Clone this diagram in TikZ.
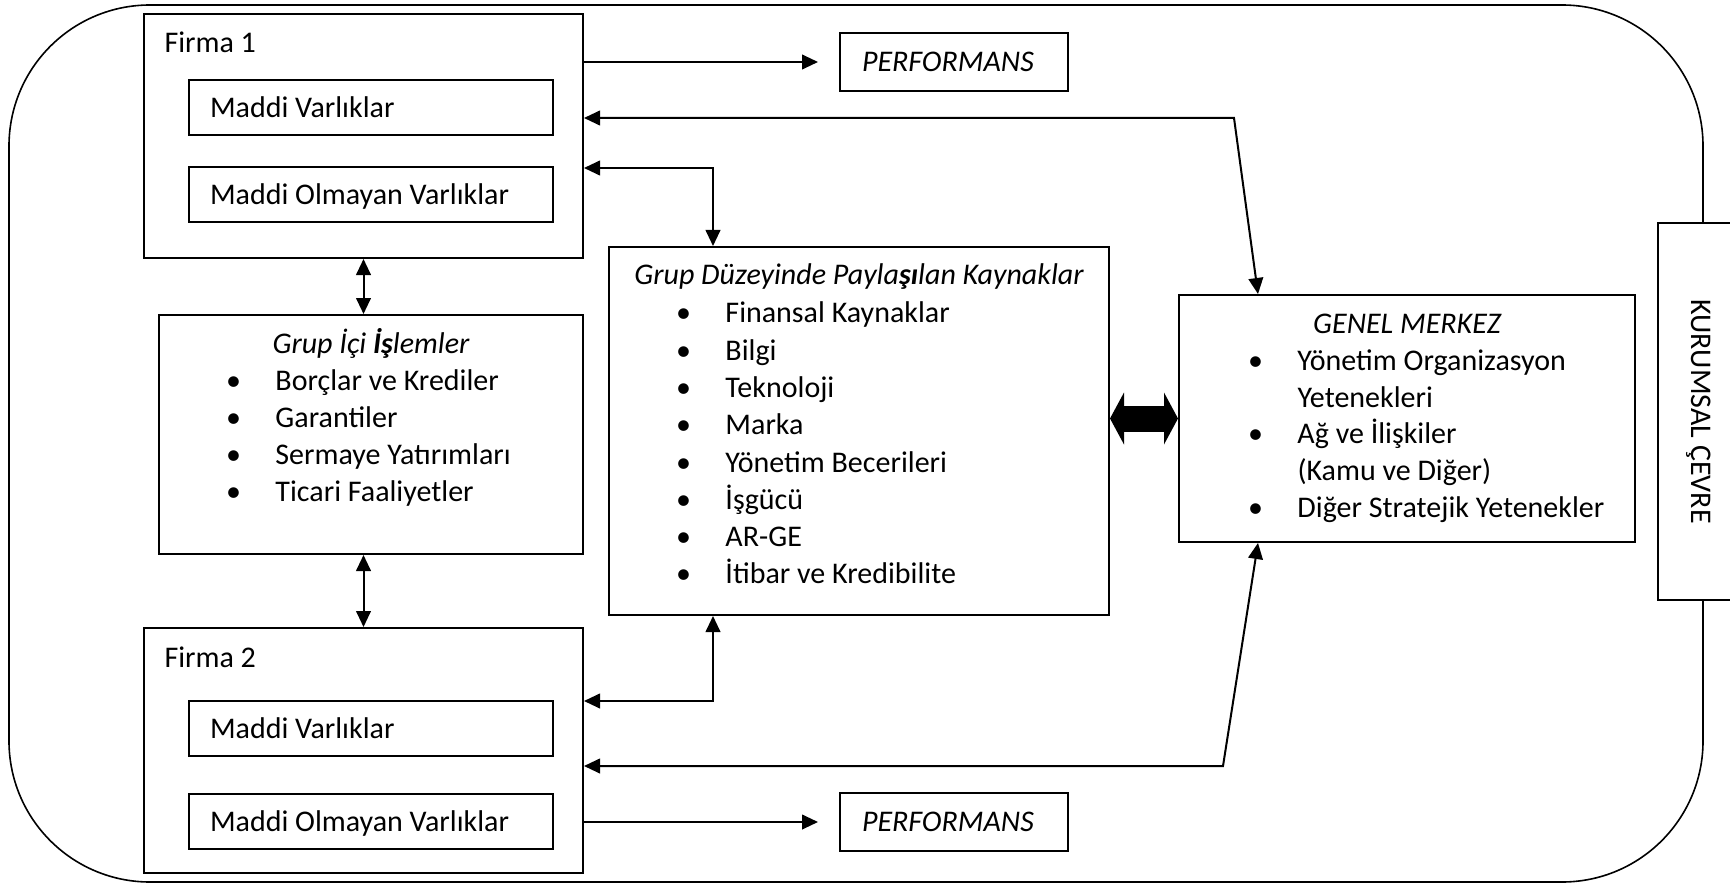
\documentclass[tikz,border=0pt]{standalone}
\usepackage{fontspec}
\setmainfont{Carlito}
\usetikzlibrary{calc}
\usetikzlibrary{arrows.meta}
\tikzset{every picture/.style={line width=0.75pt}}

\newcommand{\diafont}{\fontsize{22.5}{27}\selectfont}
\newcommand{\bul}{\llap{\makebox[0pt][c]{\textbullet}\hspace{31.5pt}}}

\tikzset{
  box/.style={draw, line width=1.5pt, inner sep=0pt},
  firma/.style={box, minimum width=329.25pt, minimum height=183pt},
  varlik/.style={box, minimum width=273pt, minimum height=41.25pt, text width=241.5pt, align=flush left, text depth=0pt},
  perf/.style={box, minimum width=171pt, minimum height=43.5pt, text width=138pt, align=flush left, font=\diafont\itshape},
  lbl/.style={inner sep=0pt, anchor=base west},
  head/.style={inner sep=0pt, anchor=base, font=\diafont\itshape},
  tip/.tip={Triangle[length=12pt,width=11pt]},
  conn/.style={line width=1.5pt, tip-tip},
  arr/.style={line width=1.5pt, -tip, shorten >=15.75pt},
  thickarr/.style={line width=19.5pt, {Triangle[length=10.5pt,width=39pt,line width=0pt]}-{Triangle[length=10.5pt,width=39pt,line width=0pt]}}
}

\begin{document}
\begin{tikzpicture}[x=0.75pt,y=0.75pt,yscale=-1,xscale=1,font=\diafont]
\useasboundingbox (0,0) rectangle (1730,884);
\clip (0,0) rectangle (1730,884);

%Outer frame
\draw [line width=1.2pt, rounded corners=105.75pt] (9,5) rectangle (1703,882);

%Firms
\node [firma] (f1) at (363.5,136) {};
\node [varlik] (f1mv) at (371,107.5) {Maddi Varlıklar};
\node [varlik] (f1mo) at (371,194.5) {Maddi Olmayan Varlıklar};
\node [firma, minimum height=183.75pt] (f2) at (363.5,750.5) {};
\node [varlik] (f2mv) at (371,728.5) {Maddi Varlıklar};
\node [varlik] (f2mo) at (371,821) {Maddi Olmayan Varlıklar};
\node [lbl] (f1lbl) at (164,53) {Firma 1};
\node [lbl] (f2lbl) at (164,667) {Firma 2};

%Performance boxes
\node [perf] (perf1) at (954,62) {PERFORMANS};
\node [perf] (perf2) at (954,822) {PERFORMANS};

%Intra-group transactions
\node [box, minimum width=318pt, minimum height=179.25pt] (gi) at (371,434.5) {};
\node [head] (gihead) at (371,353) {Grup İçi \textbf{İş}lemler};
\node [lbl] (gi1) at (275,390) {\bul Borçlar ve Krediler};
\node [lbl] (gi2) at (275,427) {\bul Garantiler};
\node [lbl] (gi3) at (275,464) {\bul Sermaye Yatırımları};
\node [lbl] (gi4) at (275,501) {\bul Ticari Faaliyetler};

%Shared resources
\node [box, minimum width=375pt, minimum height=276pt] (gd) at (859,431) {};
\node [head] (gdhead) at (859,285) {Grup Düzeyinde Payla\textbf{şı}lan Kaynaklar};
\node [lbl] (gd1) at (725,322) {\bul Finansal Kaynaklar};
\node [lbl] (gd2) at (725,360) {\bul Bilgi};
\node [lbl] (gd3) at (725,397) {\bul Teknoloji};
\node [lbl] (gd4) at (725,434) {\bul Marka};
\node [lbl] (gd5) at (725,472) {\bul Yönetim Becerileri};
\node [lbl] (gd6) at (725,509) {\bul İşgücü};
\node [lbl] (gd7) at (725,546) {\bul AR-GE};
\node [lbl] (gd8) at (725,583) {\bul İtibar ve Kredibilite};

%Headquarters
\node [box, minimum width=342pt, minimum height=185.25pt] (gm) at (1407,418.5) {};
\node [head] (gmhead) at (1407,333) {GENEL MERKEZ};
\node [lbl] (gm1) at (1297,370) {\bul Yönetim Organizasyon};
\node [lbl] (gm2) at (1297,407) {Yetenekleri};
\node [lbl] (gm3) at (1297,443) {\bul Ağ ve İlişkiler};
\node [lbl] (gm4) at (1297,480) {(Kamu ve Diğer)};
\node [lbl] (gm5) at (1297,517) {\bul Diğer Stratejik Yetenekler};

%Institutional environment
\node [box, fill=white, rotate=-90, minimum width=282.75pt, minimum height=61.5pt] (kc) at (1699,411.5) {KURUMSAL ÇEVRE};

%Connectors
\coordinate (b1) at (1234,118);
\coordinate (k1) at (713,168);
\coordinate (k2) at (713,701);
\coordinate (b2) at (1223,766);

\draw [arr] (f1.east |- perf1) -- (perf1.west);
\draw [arr] (f2.east |- perf2) -- (perf2.west);
\draw [conn] (f1.east |- b1) -- (b1) -- ($(gm.north west)+(80,0)$);
\draw [conn] (f1.east |- k1) -- (k1) -- (k1 |- gd.north);
\draw [conn] (f1.south) -- (f1.south |- gi.north);
\draw [conn] (gi.south -| f2.north) -- (f2.north);
\draw [conn] (f2.east |- k2) -- (k2) -- (k2 |- gd.south);
\draw [conn] (f2.east |- b2) -- (b2) -- ($(gm.south west)+(80,0)$);
\draw [thickarr] (gd.east |- gm.west) -- (gm.west);

\end{tikzpicture}
\end{document}
